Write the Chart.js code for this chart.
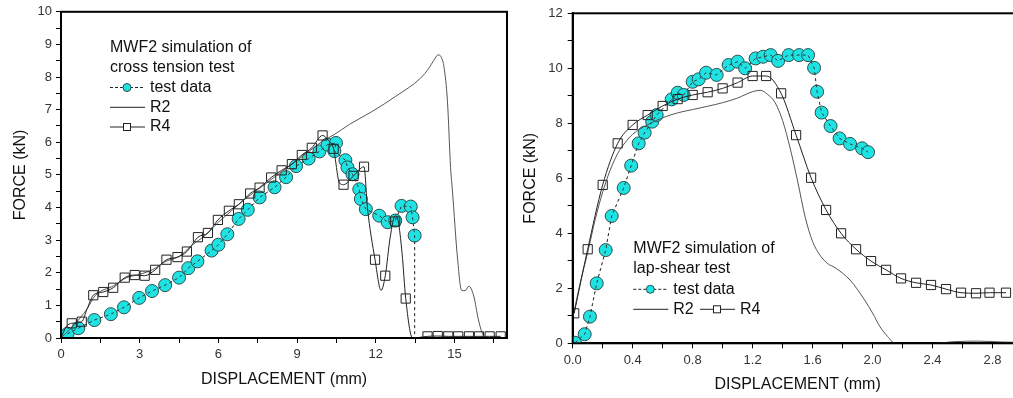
<!DOCTYPE html>
<html>
<head>
<meta charset="utf-8">
<script src="https://cdn.jsdelivr.net/npm/chart.js@4"></script>
<style>
    html, body { margin: 0; padding: 0; background: #fff; overflow: hidden; width: 1013px; height: 398px; }
    #crossChart { position: absolute; left: 0; top: 0; }
    #shearChart { position: absolute; left: 510px; top: 0; }
</style>
</head>
<body>
<canvas id="crossChart" width="520" height="398"></canvas>
<canvas id="shearChart" width="520" height="398"></canvas>
<script>
// cross tension test (left)
const ctTestX = [0.25, 0.66, 1.27, 1.9, 2.4, 2.98, 3.47, 3.97, 4.5, 4.85, 5.2, 5.74, 6.0, 6.34, 6.77, 7.12, 7.57, 8.14, 8.58, 8.96, 9.44, 9.85, 10.16, 10.48, 10.42, 10.84, 10.92, 11.11, 11.37, 11.43, 11.62, 12.13, 12.45, 12.74, 12.98, 13.33, 13.4, 13.48, 13.48];
const ctTestY = [0.13, 0.3, 0.55, 0.73, 0.94, 1.23, 1.44, 1.62, 1.85, 2.14, 2.35, 2.68, 2.86, 3.18, 3.65, 3.93, 4.31, 4.62, 4.93, 5.27, 5.5, 5.72, 5.93, 5.98, 5.73, 5.45, 5.23, 5.02, 4.56, 4.26, 3.95, 3.75, 3.55, 3.6, 4.05, 4.03, 3.7, 3.14, 0];

const ctR2X = [0, 0.5, 1.0, 1.3, 2.0, 2.5, 3.0, 3.5, 4.0, 4.5, 5.0, 5.5, 6.0, 6.5, 7.0, 7.5, 8.0, 8.5, 9.0, 9.5, 10.0, 10.4, 11.0, 11.87, 12.76, 13.71, 14.03, 14.2, 14.38, 14.5, 14.6, 14.73, 14.85, 14.92, 15.11, 15.27, 15.4, 15.55, 15.74, 15.9, 16.06, 16.2, 17];
const ctR2Y = [0, 0.4, 0.9, 1.3, 1.6, 1.85, 1.95, 2.1, 2.35, 2.5, 2.85, 3.15, 3.55, 3.9, 4.25, 4.55, 4.85, 5.15, 5.45, 5.75, 6.05, 6.23, 6.55, 6.95, 7.41, 7.97, 8.28, 8.5, 8.68, 8.6, 8.3, 7.26, 5.22, 4.51, 2.48, 1.46, 1.45, 1.59, 1.26, 0.6, 0.14, 0, 0];

const ctR4X = [0, 0.2, 0.41, 0.79, 1.0, 1.23, 1.61, 1.99, 2.43, 2.81, 3.19, 3.59, 4.02, 4.44, 4.8, 5.22, 5.6, 5.98, 6.4, 6.78, 7.21, 7.57, 8.01, 8.41, 8.8, 9.18, 9.56, 9.97, 10.2, 10.39, 10.61, 10.77, 11.15, 11.55, 11.68, 11.97, 12.2, 12.36, 12.55, 12.74, 12.85, 13.0, 13.14, 13.4, 13.97, 14.36, 14.76, 15.14, 15.55, 15.93, 16.34, 16.76];
const ctR4Y = [0, 0.35, 0.45, 0.5, 0.9, 1.31, 1.41, 1.54, 1.85, 1.93, 1.91, 2.09, 2.4, 2.48, 2.65, 3.09, 3.22, 3.62, 3.9, 4.1, 4.43, 4.61, 4.92, 5.14, 5.33, 5.61, 5.83, 6.21, 6.05, 5.8, 4.76, 4.7, 4.97, 5.25, 4.0, 2.4, 1.46, 1.91, 3.1, 3.75, 3.6, 2.6, 1.21, 0, 0.05, 0.06, 0.05, 0.05, 0.05, 0.05, 0.05, 0.05];

const ctMarkX = [0.41, 0.79, 1.23, 1.61, 1.99, 2.43, 2.81, 3.19, 3.59, 4.02, 4.44, 4.8, 5.22, 5.6, 5.98, 6.4, 6.78, 7.21, 7.57, 8.01, 8.41, 8.8, 9.18, 9.56, 9.97, 10.39, 10.77, 11.15, 11.55, 11.97, 12.36, 12.74, 13.14, 13.97, 14.36, 14.76, 15.14, 15.55, 15.93, 16.34, 16.76];
const ctMarkY = [0.45, 0.5, 1.31, 1.41, 1.54, 1.85, 1.93, 1.91, 2.09, 2.4, 2.48, 2.65, 3.09, 3.22, 3.62, 3.9, 4.1, 4.43, 4.61, 4.92, 5.14, 5.33, 5.61, 5.83, 6.21, 5.8, 4.7, 4.97, 5.25, 2.4, 1.91, 3.57, 1.21, 0.05, 0.06, 0.05, 0.05, 0.05, 0.05, 0.05, 0.05];

// lap-shear test (right)
const lsTestX = [0.015, 0.08, 0.115, 0.16, 0.22, 0.26, 0.34, 0.39, 0.44, 0.48, 0.53, 0.56, 0.66, 0.7, 0.74, 0.8, 0.84, 0.89, 0.96, 1.04, 1.1, 1.15, 1.22, 1.27, 1.32, 1.37, 1.44, 1.51, 1.57, 1.61, 1.63, 1.66, 1.72, 1.78, 1.85, 1.93, 1.97];
const lsTestY = [0.02, 0.33, 0.97, 2.18, 3.39, 4.63, 5.65, 6.46, 7.27, 7.66, 8.06, 8.3, 8.87, 9.11, 9.03, 9.51, 9.6, 9.84, 9.76, 10.12, 10.24, 10.0, 10.36, 10.42, 10.48, 10.27, 10.48, 10.48, 10.48, 10.02, 9.15, 8.39, 7.9, 7.45, 7.25, 7.09, 6.95];

const lsR2X = [0, 0.05, 0.1, 0.15, 0.2, 0.25, 0.3, 0.35, 0.4, 0.5, 0.6, 0.7, 0.8, 0.9, 1.0, 1.1, 1.2, 1.25, 1.3, 1.35, 1.4, 1.45, 1.5, 1.55, 1.6, 1.65, 1.7, 1.75, 1.8, 1.85, 1.9, 1.95, 2.0, 2.05, 2.1, 2.15, 2.4, 2.55, 2.7, 2.85, 3.0];
const lsR2Y = [0.9, 2.2, 3.3, 4.5, 5.5, 6.3, 6.9, 7.3, 7.6, 7.95, 8.2, 8.38, 8.5, 8.62, 8.75, 8.92, 9.15, 9.2, 9.05, 8.75, 8.1, 7.1, 5.9, 4.6, 3.7, 3.2, 2.9, 2.75, 2.55, 2.3, 1.95, 1.55, 1.1, 0.6, 0.25, 0, 0, 0.06, 0.08, 0.05, 0.03];

const lsR4X = [0.01, 0.1, 0.2, 0.3, 0.4, 0.5, 0.6, 0.7, 0.8, 0.9, 1.0, 1.1, 1.2, 1.29, 1.39, 1.49, 1.59, 1.69, 1.79, 1.89, 1.99, 2.09, 2.19, 2.29, 2.39, 2.49, 2.59, 2.69, 2.78, 2.89];
const lsR4Y = [1.09, 3.42, 5.76, 7.27, 7.94, 8.3, 8.63, 8.88, 9.03, 9.13, 9.27, 9.48, 9.72, 9.72, 9.09, 7.57, 6.02, 4.85, 4.0, 3.42, 2.99, 2.67, 2.36, 2.2, 2.12, 1.97, 1.84, 1.82, 1.84, 1.84];

const FONT = '"Liberation Sans", Arial, sans-serif';
const CYAN = '#1fe3e3';

function pts(xs, ys) {
    return xs.map((x, i) => ({ x: x, y: ys[i] }));
}

// plot frame on all four sides
const framePlugin = {
    id: 'frame',
    afterDatasetsDraw(chart) {
        const ctx = chart.ctx;
        const a = chart.chartArea;
        ctx.save();
        ctx.strokeStyle = '#000';
        ctx.lineWidth = 2;
        ctx.strokeRect(a.left, a.top, a.right - a.left, a.bottom - a.top);
        ctx.restore();
    }
};

// legend box drawn inside the plot
const notePlugin = {
    id: 'note',
    afterDraw(chart, args, opts) {
        const ctx = chart.ctx;
        ctx.save();
        ctx.font = '16px ' + FONT;
        ctx.fillStyle = '#111';
        ctx.textBaseline = 'middle';
        opts.title.forEach((t, i) => ctx.fillText(t, opts.x, opts.y + i * opts.gap));
        opts.rows.forEach(row => {
            row.items.forEach(it => {
                const y = row.y;
                const mid = it.x + 17;
                ctx.beginPath();
                ctx.strokeStyle = '#222';
                ctx.lineWidth = 1;
                ctx.setLineDash(it.sym === 'test' ? [3, 2] : []);
                ctx.moveTo(it.x, y);
                ctx.lineTo(it.x + 35, y);
                ctx.stroke();
                ctx.setLineDash([]);
                if (it.sym === 'test') {
                    ctx.beginPath();
                    ctx.arc(mid, y, 4, 0, Math.PI * 2);
                    ctx.fillStyle = CYAN;
                    ctx.fill();
                    ctx.strokeStyle = '#2c4f4f';
                    ctx.stroke();
                } else if (it.sym === 'r4') {
                    ctx.fillStyle = '#fff';
                    ctx.fillRect(mid - 3.5, y - 3.5, 7, 7);
                    ctx.strokeStyle = '#222';
                    ctx.strokeRect(mid - 3.5, y - 3.5, 7, 7);
                }
                ctx.fillStyle = '#111';
                ctx.fillText(it.label, it.x + 40, y);
            });
        });
        ctx.restore();
    }
};

function axis(opt) {
    return {
        type: 'linear',
        min: opt.min,
        max: opt.max,
        afterFit(s) {
            if (opt.width) s.width = opt.width;
            if (opt.height) s.height = opt.height;
        },
        border: { display: true, color: '#000', width: 2 },
        grid: { drawOnChartArea: false, drawTicks: true, tickLength: 5, color: '#000', tickWidth: 1 },
        ticks: {
            stepSize: opt.step,
            includeBounds: false,
            autoSkip: false,
            maxRotation: 0,
            padding: opt.pad,
            color: '#333',
            font: { family: FONT, size: 13 },
            callback: opt.label
        },
        title: {
            display: true,
            text: opt.title,
            color: '#111',
            font: { family: FONT, size: 16 },
            padding: opt.titlePad
        }
    };
}

function datasets(test, r2, r4line, r4mark) {
    const list = [
        { // dashes on top of the circles
            data: test, showLine: true, borderColor: '#333', borderWidth: 1, borderDash: [3, 3],
            pointRadius: 0, tension: 0, order: 0
        },
        {
            data: r4mark, showLine: false, pointStyle: 'rect', pointRadius: 6.5,
            pointBackgroundColor: 'rgba(0,0,0,0)', pointBorderColor: '#222', pointBorderWidth: 1, order: 1
        },
        {
            data: r2, showLine: true, borderColor: '#555', borderWidth: 1, pointRadius: 0,
            cubicInterpolationMode: 'monotone', order: 3
        },
        {
            data: test, showLine: true, borderColor: '#aaa', borderWidth: 1, borderDash: [3, 3],
            pointRadius: ctx => (ctx.raw && ctx.raw.y === 0 ? 0 : 6.5),
            pointBackgroundColor: CYAN, pointBorderColor: '#2c4f4f', pointBorderWidth: 1, tension: 0, order: 4
        }
    ];
    if (r4line) {
        list.push({
            data: r4line, showLine: true, borderColor: '#222', borderWidth: 1, pointRadius: 0,
            cubicInterpolationMode: 'monotone', order: 2
        });
    } else {
        list[1].showLine = true;
        list[1].borderColor = '#222';
        list[1].borderWidth = 1;
        list[1].cubicInterpolationMode = 'monotone';
    }
    return list;
}

function makeChart(id, cfg) {
    const ctx = document.getElementById(id).getContext('2d');
    return new Chart(ctx, {
        type: 'scatter',
        data: { datasets: cfg.datasets },
        options: {
            responsive: false,
            animation: false,
            layout: { padding: cfg.padding },
            plugins: { legend: { display: false }, tooltip: { enabled: false }, note: cfg.note },
            scales: { x: cfg.x, y: cfg.y }
        },
        plugins: [framePlugin, notePlugin]
    });
}

makeChart('crossChart', {
    datasets: datasets(pts(ctTestX, ctTestY), pts(ctR2X, ctR2Y), pts(ctR4X, ctR4Y), pts(ctMarkX, ctMarkY)),
    padding: { top: 10, right: 13, left: 0, bottom: 0 },
    x: axis({
        min: 0, max: 17, step: 1.5, height: 60, pad: 4,
        label: v => (Math.abs(v % 3) < 1e-6 ? String(v) : ''),
        title: 'DISPLACEMENT (mm)', titlePad: { top: 0, bottom: 9 }
    }),
    y: axis({
        min: 0, max: 10, step: 0.5, width: 61, pad: 4,
        label: v => (Number.isInteger(v) ? String(v) : ''),
        title: 'FORCE (kN)', titlePad: { top: 11, bottom: 0 }
    }),
    note: {
        x: 110, y: 48, gap: 19.8,
        title: ['MWF2 simulation of', 'cross tension test'],
        rows: [
            { y: 87.5, items: [{ sym: 'test', x: 110, label: 'test data' }] },
            { y: 107.3, items: [{ sym: 'r2', x: 110, label: 'R2' }] },
            { y: 127, items: [{ sym: 'r4', x: 110, label: 'R4' }] }
        ]
    }
});

makeChart('shearChart', {
    datasets: datasets(pts(lsTestX, lsTestY), pts(lsR2X, lsR2Y), null, pts(lsR4X, lsR4Y)),
    padding: { top: 13.3, right: 7.3, left: 0, bottom: 0 },
    x: axis({
        min: 0, max: 3, step: 0.2, height: 54.7, pad: 4,
        label: v => (Math.round(v * 10) % 4 === 0 ? v.toFixed(1) : ''),
        title: 'DISPLACEMENT (mm)', titlePad: { top: 0, bottom: 4 }
    }),
    y: axis({
        min: 0, max: 12, step: 1, width: 62.7, pad: 5,
        label: v => (v % 2 === 0 ? String(v) : ''),
        title: 'FORCE (kN)', titlePad: { top: 11, bottom: 0 }
    }),
    note: {
        x: 123.3, y: 248.3, gap: 20,
        title: ['MWF2 simulation of', 'lap-shear test'],
        rows: [
            { y: 289.3, items: [{ sym: 'test', x: 123.3, label: 'test data' }] },
            { y: 309.3, items: [{ sym: 'r2', x: 123.3, label: 'R2' }, { sym: 'r4', x: 190, label: 'R4' }] }
        ]
    }
});
</script>
</body>
</html>
